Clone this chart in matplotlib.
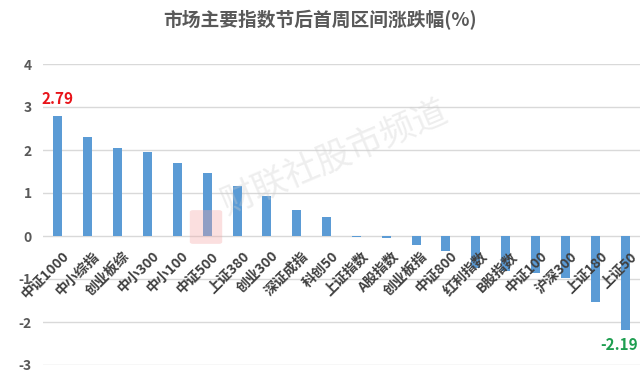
import matplotlib
matplotlib.use("Agg")
import matplotlib.pyplot as plt
from matplotlib.patches import FancyBboxPatch, Circle

plt.rcParams['font.family'] = ['Noto Sans CJK SC', 'DejaVu Sans']

# Index names and weekly change (%)
names = ['中证1000', '中小综指', '创业板综', '中小300', '中小100', '中证500', '上证380',
         '创业300', '深证成指', '科创50', '上证指数', 'A股指数', '创业板指', '中证800',
         '红利指数', 'B股指数', '中证100', '沪深300', '上证180', '上证50']
changes = [2.79, 2.30, 2.04, 1.96, 1.69, 1.47, 1.17,
           0.94, 0.60, 0.45, -0.03, -0.05, -0.22, -0.34,
           -0.75, -0.82, -0.85, -0.97, -1.54, -2.19]
yticks = [-3, -2, -1, 0, 1, 2, 3, 4]

fig = plt.figure(figsize=(6.4, 3.77), dpi=100)
ax = fig.add_axes([43 / 640, 12 / 377, 597 / 640, 301 / 377])

x = list(range(len(names)))
ax.bar(x, changes, width=0.3, color='#5b9bd5', zorder=3)

ax.set_xlim(-0.5, len(names) - 0.5)
ax.set_ylim(-3, 4)
ax.set_yticks(yticks)
ax.set_yticklabels([str(t) for t in yticks], fontsize=10, color='#595959', fontweight='bold')
ax.tick_params(axis='y', length=0, pad=8)
ax.set_xticks([])
ax.grid(axis='y', color='#d9d9d9', linewidth=1, zorder=0)
for s in ax.spines.values():
    s.set_visible(False)

# category labels sit rotated just under the zero line
for i, name in enumerate(names):
    ax.text(i + 0.15, -0.3, name, rotation=45, rotation_mode='anchor',
            ha='right', va='top', fontsize=10, fontweight='bold', color='#404040', zorder=4)

# highlight the extremes
ax.text(0, changes[0] + 0.2, f'{changes[0]:.2f}', ha='center', va='bottom',
        fontsize=11, fontweight='bold', color='#e8141a', zorder=5)
ax.text(len(names) - 1.2, changes[-1] - 0.15, f'{changes[-1]:.2f}', ha='center', va='top',
        fontsize=11, fontweight='bold', color='#1e9e50', zorder=5)

fig.text(0.5, 1 - 20 / 377, '市场主要指数节后首周区间涨跌幅(%)', ha='center', va='center',
         fontsize=13.5, fontweight='bold', color='#595959')

# watermark
fig.text(335 / 640, 1 - 158 / 377, '财联社股市频道', rotation=23, ha='center', va='center',
         fontsize=25, color='#cfcfcf', alpha=0.35, zorder=10)
logo = FancyBboxPatch((193 / 640, 1 - 242 / 377), 26 / 640, 30 / 377,
                      boxstyle='round,pad=0.005', transform=fig.transFigure,
                      facecolor='#f4a6a6', edgecolor='none', alpha=0.35, zorder=10)
fig.patches.append(logo)

fig.savefig('out.png', dpi=100)
